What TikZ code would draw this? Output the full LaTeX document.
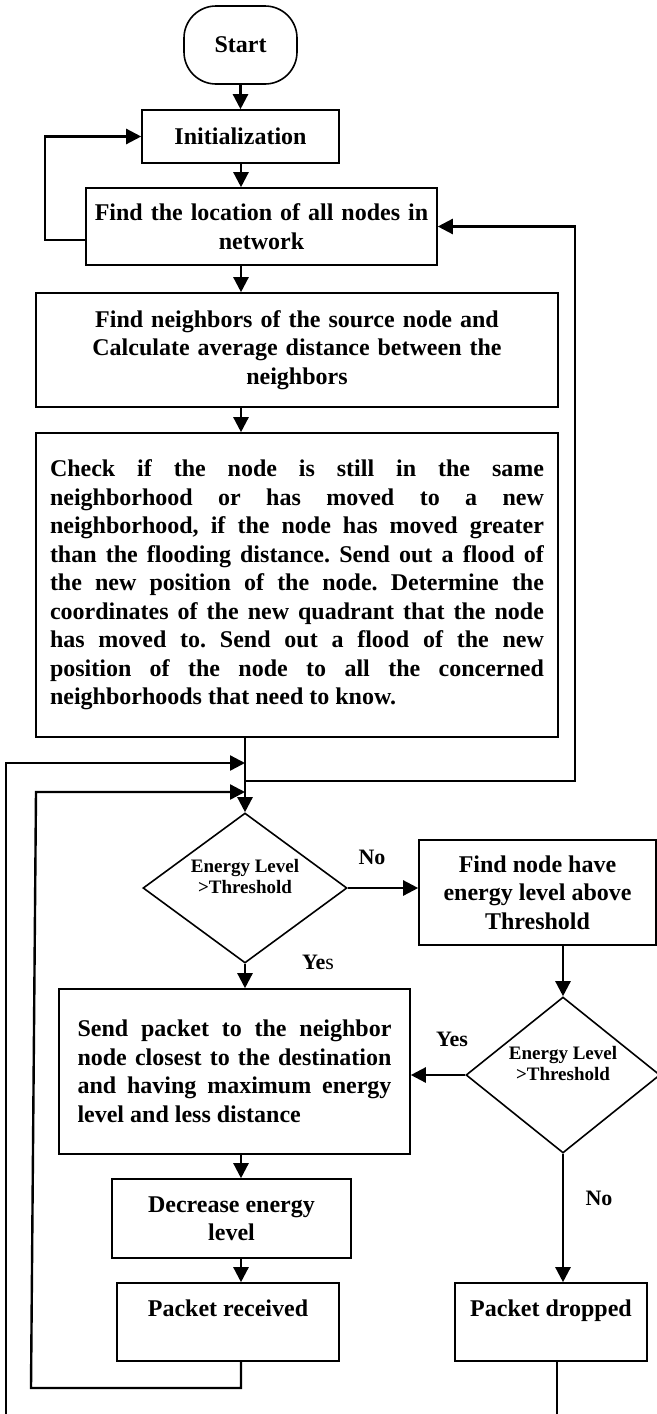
\documentclass[tikz,border=0pt]{standalone}
\usepackage{fontspec}
\setmainfont{Liberation Serif}
\usetikzlibrary{shapes.geometric, arrows.meta, calc}
\frenchspacing

\begin{document}
\begin{tikzpicture}[x=0.5pt, y=-0.5pt,
    box/.style = {draw, line width=0.8pt, inner sep=0pt, font=\bfseries\fontsize{12}{14.25}\selectfont},
    test/.style = {draw, diamond, line width=0.8pt, inner sep=0pt, shape aspect=1.4, align=center, text depth=12pt, font=\bfseries\fontsize{9.5}{10.5}\selectfont},
    flow/.style = {line width=1.2pt, -{Triangle[length=7.5pt, width=7.5pt]}},
    link/.style = {line width=1.2pt},
    tag/.style = {font=\bfseries\fontsize{11}{13}\selectfont}]
    % Cornice
    \useasboundingbox (0,0) rectangle (657,1414);
    % Blocchi principali
    \node[box, rounded corners=16pt, minimum width=56.5pt, minimum height=39pt] (start) at (240.5,45) {Start};
    \node[box, minimum width=98.5pt, minimum height=26.5pt] (init) at (240.5,136.5) {Initialization};
    \node[box, minimum width=175.5pt, minimum height=38.5pt, text width=172pt, align=center] (loc) at (261.5,226.5) {Find the location of all nodes in\\ network};
    \node[box, minimum width=261pt, minimum height=57pt, text width=205pt, align=center] (neigh) at (297,350) {Find neighbors of the source node and\\ Calculate average distance between the\\ neighbors};
    \node[box, minimum width=261pt, minimum height=152pt, text width=247pt, align=justify] (check) at (297,585) {Check if the node is still in the same\linebreak neighborhood or has moved to a new\linebreak neighborhood, if the node has moved greater\linebreak than the flooding distance. Send out a flood of\linebreak the new position of the node. Determine the\linebreak coordinates of the new quadrant that the node\linebreak has moved to. Send out a flood of the new\linebreak position of the node to all the concerned\linebreak neighborhoods that need to know.\par\vspace{9pt}};
    % Test energia
    \node[test, minimum width=102pt, minimum height=75pt] (e1) at (245,888) {Energy Level\\>Threshold};
    \node[box, minimum width=118.5pt, minimum height=52.5pt, align=center] (find) at (537.5,892.5) {Find node have\\ energy level above\\ Threshold};
    \node[test, minimum width=97pt, minimum height=78pt] (e2) at (563,1075) {Energy Level\\>Threshold};
    \node[box, minimum width=175.5pt, minimum height=82.5pt, text width=157pt, align=justify] (send) at (234.5,1071.5) {Send packet to the neighbor\linebreak node closest to the destination\linebreak and having maximum energy\linebreak level and less distance\par\vspace{13pt}};
    \node[box, minimum width=119.5pt, minimum height=39.5pt, align=center] (dec) at (231.5,1218.5) {Decrease energy\\ level};
    \node[box, minimum width=111pt, minimum height=39pt, text depth=14pt] (recv) at (228,1322) {Packet received};
    \node[box, minimum width=96pt, minimum height=39pt, text depth=14pt] (drop) at (551,1322) {Packet dropped};
    % Etichette
    \node[tag] (no1) at (372,857) {No};
    \node[tag] (yes1) at (318,962) {Ye\textmd{s}};
    \node[tag] (yes2) at (452,1039) {Yes};
    \node[tag] (no2) at (599,1198) {No};
    % Punti di raccordo
    \coordinate (spine) at (241,0);
    \coordinate (joinA) at (245,763);
    \coordinate (joinB) at (245,781);
    \coordinate (joinC) at (245,792);
    \coordinate (lcorner) at (45,240);
    \coordinate (rcorner) at (575,781);
    \coordinate (outbot) at (6,1414);
    \coordinate (inbot) at (31,1388);
    \coordinate (intop) at (36,792);
    \coordinate (dropbot) at (557,1414);
    % Frecce
    \draw[flow] (start.south) -- (init.north);
    \draw[flow] (spine |- init.south) -- (spine |- loc.north);
    \draw[flow] (spine |- loc.south) -- (spine |- neigh.north);
    \draw[flow] (spine |- neigh.south) -- (spine |- check.north);
    \draw[flow] (loc.west |- lcorner) -- (lcorner) |- (init.west);
    \draw[flow] (e1.north |- check.south) -- (e1.north);
    \draw[flow] (joinB) -- (rcorner) |- (loc.east);
    \draw[flow] (outbot) |- (joinA);
    \draw[flow] (spine |- recv.south) -- (spine |- inbot) -- (inbot) -- (intop) -- (joinC);
    \draw[flow] (e1.east) -- (find.west |- e1.east);
    \draw[flow] (e1.south) -- (e1.south |- send.north);
    \draw[flow] (e2.north |- find.south) -- (e2.north);
    \draw[flow] (e2.west) -- (send.east |- e2.west);
    \draw[flow] (e2.south) -- (e2.south |- drop.north);
    \draw[flow] (spine |- send.south) -- (spine |- dec.north);
    \draw[flow] (spine |- dec.south) -- (spine |- recv.north);
    \draw[link] (dropbot |- drop.south) -- (dropbot);
\end{tikzpicture}
\end{document}
